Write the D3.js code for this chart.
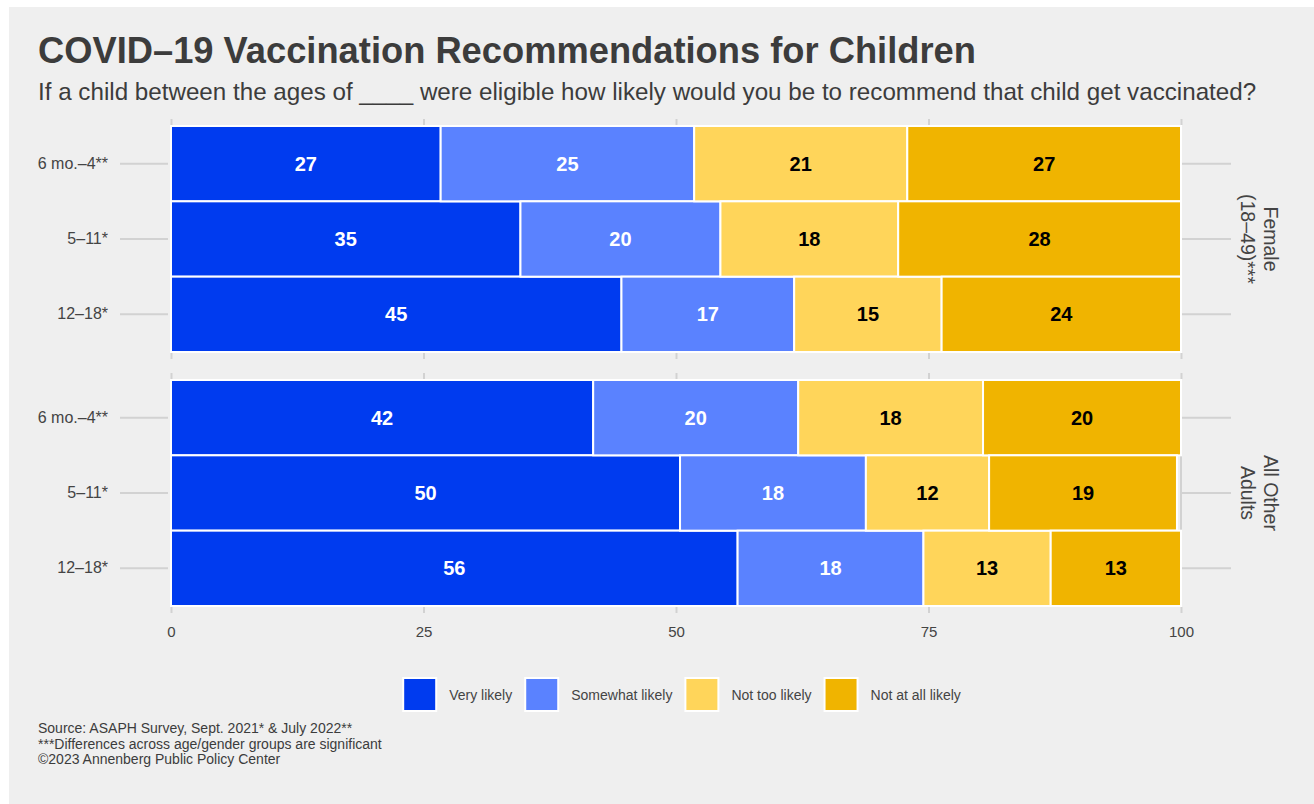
<!DOCTYPE html>
<html>
<head>
<meta charset="utf-8">
<script src="https://cdn.jsdelivr.net/npm/d3@7"></script>
<style>
  html, body { margin: 0; padding: 0; background: #ffffff; }
  svg { display: block; font-family: "Liberation Sans", Arial, Helvetica, sans-serif; }
</style>
</head>
<body>
<svg id="chart" width="1314" height="804"></svg>
<script>
// ---------- data ----------
const groups = ["Female|(18–49)***", "All Other|Adults"];
const ages = ["6 mo.–4**", "5–11*", "12–18*"];
const seriesNames = ["Very likely", "Somewhat likely", "Not too likely", "Not at all likely"];
const seriesColors = ["#003bef", "#5a82ff", "#ffd55a", "#f0b400"];
const labelColors = ["#ffffff", "#ffffff", "#000000", "#000000"];
// order: Female 6mo-4, 5-11, 12-18, then All Other 6mo-4, 5-11, 12-18
const veryLikely     = [26.7, 34.6, 44.6, 41.8, 50.4, 56.1];
const somewhatLikely = [25.1, 19.8, 17.1, 20.3, 18.4, 18.4];
const notTooLikely   = [21.1, 17.6, 14.6, 18.3, 12.2, 12.6];
const notAtAllLikely = [27.1, 28.0, 23.7, 19.6, 18.6, 12.9];
const xTicks = [0, 25, 50, 75, 100];

const title = "COVID–19 Vaccination Recommendations for Children";
const subtitle = "If a child between the ages of ____ were eligible how likely would you be to recommend that child get vaccinated?";
const captionLines = [
  "Source: ASAPH Survey, Sept. 2021* & July 2022**",
  "***Differences across age/gender groups are significant",
  "©2023 Annenberg Public Policy Center"
];

// ---------- table ----------
const rows = [];
groups.forEach((g, gi) => {
  ages.forEach((a, ai) => {
    const i = gi * ages.length + ai;
    rows.push({
      group: g, age: a,
      "Very likely": veryLikely[i],
      "Somewhat likely": somewhatLikely[i],
      "Not too likely": notTooLikely[i],
      "Not at all likely": notAtAllLikely[i]
    });
  });
});

const svg = d3.select("#chart");
const textColor = "#3c3c3c";
const axisColor = "#444444";
const tickColor = "#d2d2d2";

// background
svg.append("rect").attr("x", 9).attr("y", 7).attr("width", 1314 - 9).attr("height", 804 - 7)
  .attr("fill", "#efefef");

// titles
svg.append("text").attr("x", 38).attr("y", 63).attr("font-size", 36.3).attr("font-weight", "bold")
  .attr("fill", textColor).text(title);
svg.append("text").attr("x", 38).attr("y", 100).attr("font-size", 24.2)
  .attr("fill", textColor).text(subtitle);

// scales
const x = d3.scaleLinear().domain([0, 100]).range([171, 1181]);
const panel = d3.scaleBand().domain(groups).range([126, 606]).paddingInner(28 / 254);
const yFor = g => d3.scaleBand().domain(ages).range([panel(g), panel(g) + panel.bandwidth()]);

const stack = d3.stack().keys(seriesNames);
const stacked = stack(rows);

groups.forEach(g => {
  const y = yFor(g);
  const top = panel(g), bottom = panel(g) + panel.bandwidth();
  const gP = svg.append("g");

  // vertical gridlines
  gP.selectAll("line.grid").data(xTicks).join("line")
    .attr("x1", d => x(d)).attr("x2", d => x(d))
    .attr("y1", top).attr("y2", bottom)
    .attr("stroke", tickColor).attr("stroke-width", 2);

  // bars
  stacked.forEach((s, si) => {
    const data = s.filter(d => d.data.group === g);
    gP.selectAll(null).data(data).join("rect")
      .attr("x", d => x(d[0]))
      .attr("width", d => x(d[1]) - x(d[0]))
      .attr("y", d => y(d.data.age))
      .attr("height", y.bandwidth())
      .attr("fill", seriesColors[si])
      .attr("stroke", "#ffffff").attr("stroke-width", 2);
    gP.selectAll(null).data(data).join("text")
      .attr("x", d => (x(d[0]) + x(d[1])) / 2)
      .attr("y", d => y(d.data.age) + y.bandwidth() / 2)
      .attr("text-anchor", "middle").attr("dominant-baseline", "central")
      .attr("font-size", 20).attr("font-weight", "bold")
      .attr("fill", labelColors[si])
      .text(d => Math.round(d.data[seriesNames[si]]));
  });

  // top ticks
  const topAxis = svg.append("g").attr("transform", `translate(0,${top - 1})`)
    .call(d3.axisTop(x).tickValues(xTicks).tickSize(6).tickFormat(""));
  // bottom ticks
  const isLast = g === groups[groups.length - 1];
  const bottomAxis = svg.append("g").attr("transform", `translate(0,${bottom + 1})`)
    .call(d3.axisBottom(x).tickValues(xTicks).tickSize(6).tickPadding(13)
      .tickFormat(isLast ? d3.format("d") : ""));
  // left ticks with labels
  const leftAxis = svg.append("g").attr("transform", `translate(${x(0) - 3},0)`)
    .call(d3.axisLeft(y).tickSize(48).tickPadding(12));
  // right ticks
  const rightAxis = svg.append("g").attr("transform", `translate(${x(100) + 1},0)`)
    .call(d3.axisRight(y).tickSize(49).tickFormat(""));

  [topAxis, bottomAxis, leftAxis, rightAxis].forEach(ax => {
    ax.select(".domain").remove();
    ax.selectAll(".tick line").attr("stroke", tickColor).attr("stroke-width", 2);
    ax.selectAll(".tick text").attr("fill", axisColor).attr("font-family", "Liberation Sans, Arial, sans-serif");
  });
  leftAxis.selectAll(".tick text").attr("font-size", 16);
  bottomAxis.selectAll(".tick text").attr("font-size", 15);

  // strip label (rotated)
  const cy = (top + bottom) / 2;
  const lines = g.split("|");
  const strip = svg.append("text")
    .attr("transform", `translate(1259.5,${cy}) rotate(90)`)
    .attr("text-anchor", "middle").attr("font-size", 19.5).attr("fill", axisColor);
  lines.forEach((ln, li) => {
    strip.append("tspan").attr("x", 0)
      .attr("y", (li - (lines.length - 1) / 2) * 22.4)
      .attr("dominant-baseline", "central").text(ln);
  });
});

// legend
const legend = svg.append("g");
const keySize = 33, gap = 13;
let cursor = 0;
seriesNames.forEach((name, i) => {
  const gi = legend.append("g");
  gi.append("rect").attr("x", 0).attr("y", 0).attr("width", keySize).attr("height", keySize)
    .attr("fill", seriesColors[i]).attr("stroke", "#ffffff").attr("stroke-width", 2);
  const t = gi.append("text").attr("x", keySize + gap).attr("y", keySize / 2)
    .attr("dominant-baseline", "central").attr("font-size", 14).attr("fill", axisColor).text(name);
  const w = t.node().getComputedTextLength();
  gi.attr("transform", `translate(${cursor},0)`);
  cursor += keySize + gap + w + gap;
});
const legendWidth = cursor - gap;
legend.attr("transform", `translate(${682 - legendWidth / 2},${678})`);

// caption
captionLines.forEach((ln, i) => {
  svg.append("text").attr("x", 38).attr("y", 733 + i * 15.5).attr("font-size", 14)
    .attr("fill", textColor).text(ln);
});
</script>
</body>
</html>
